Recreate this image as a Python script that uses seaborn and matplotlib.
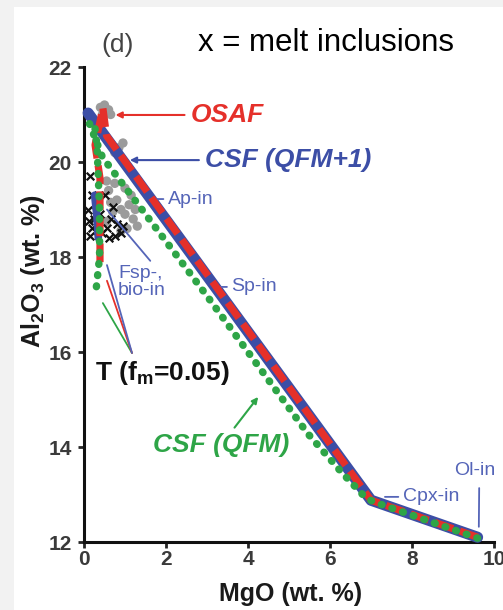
import matplotlib
matplotlib.use("Agg")
import matplotlib.pyplot as plt
from matplotlib.patches import Rectangle
import seaborn as sns

# model paths (MgO, Al2O3 in wt. %)
csf1_mgo = [9.6, 7.0, 0.1]
csf1_al = [12.1, 12.88, 21.03]
csf1_t_mgo = [0.26, 0.31, 0.35]
csf1_t_al = [19.3, 18.9, 18.4]

osaf_mgo = [9.6, 7.0, 0.55, 0.46, 0.27, 0.39, 0.39]
osaf_al = [12.1, 12.88, 20.55, 21.14, 20.36, 19.66, 17.83]

csf_mgo = [9.6, 7.05, 6.85, 6.3, 5.45, 3.05, 2.2, 1.15, 0.45, 0.07]
csf_al = [12.08, 12.85, 12.95, 13.45, 14.29, 17.12, 18.1, 19.3, 20.1, 20.95]
csf_t_mgo = [0.27, 0.32, 0.38, 0.38, 0.3]
csf_t_al = [20.7, 20.3, 19.0, 18.0, 17.35]

# whole-rock data (grey) and melt inclusions (x)
rock_mgo = [0.4, 0.5, 0.6, 0.45, 0.65, 0.95, 0.85, 0.75, 0.6, 0.8, 0.9, 1.0, 1.1,
            1.2, 0.7, 1.3, 0.55, 1.05, 0.75, 1.15, 1.25, 0.65, 0.9, 0.55, 1.0]
rock_al = [21.15, 21.2, 21.1, 21.0, 21.0, 20.4, 20.3, 20.2, 19.4, 19.2, 19.0, 18.9, 19.1,
           18.8, 18.95, 18.65, 18.75, 18.6, 19.55, 19.3, 19.0, 19.15, 18.55, 19.6, 19.45]
mi_mgo = [0.15, 0.2, 0.1, 0.25, 0.3, 0.4, 0.55, 0.65, 0.75, 0.8, 0.9, 0.2, 0.15,
          0.7, 0.5, 0.35, 0.95, 0.6, 0.12, 0.45]
mi_al = [19.7, 19.3, 19.0, 18.8, 19.1, 18.9, 18.6, 18.8, 18.45, 18.7, 18.5, 18.6, 18.45,
         19.05, 19.3, 18.55, 18.65, 18.4, 18.75, 18.5]

xticks = [0, 2, 4, 6, 8, 10]
yticks = [12, 14, 16, 18, 20, 22]

BLUE = "#3c4ea6"
RED = "#e5302a"
GREEN = "#2ea547"
LBLUE = "#5565b8"

sns.set_style("ticks")
plt.rcParams["font.family"] = ["Liberation Sans", "DejaVu Sans"]
plt.rcParams["mathtext.default"] = "regular"

fig, ax = plt.subplots(figsize=(5.03, 6.10), dpi=100, facecolor="#f2f2f2")
fig.patches.append(Rectangle((14 / 503, 0), 1, 1 - 7 / 610, transform=fig.transFigure,
                             facecolor="white", edgecolor="none", zorder=-1))
fig.subplots_adjust(left=84 / 503, right=494 / 503, bottom=1 - 542 / 610, top=1 - 67 / 610)
ax.set_facecolor("none")

sns.scatterplot(x=rock_mgo, y=rock_al, color="#9b9b9b", s=45, edgecolor="none",
                ax=ax, zorder=2, clip_on=False)
sns.scatterplot(x=mi_mgo, y=mi_al, color="#111111", marker="x", s=30, linewidth=1.6,
                ax=ax, zorder=2, clip_on=False)

sns.lineplot(x=csf1_mgo, y=csf1_al, sort=False, estimator=None, color=BLUE, lw=8,
             ax=ax, zorder=3, clip_on=False)
sns.lineplot(x=csf1_t_mgo, y=csf1_t_al, sort=False, estimator=None, color=BLUE, lw=5.5,
             ax=ax, zorder=3, clip_on=False)
sns.lineplot(x=osaf_mgo, y=osaf_al, sort=False, estimator=None, color=RED, lw=5.2,
             ax=ax, zorder=4, clip_on=False)
ax.lines[-1].set_dashes((2.6, 1.0))
for xs, ys in [(csf_mgo, csf_al), (csf_t_mgo, csf_t_al)]:
    sns.lineplot(x=xs, y=ys, sort=False, estimator=None, color=GREEN, lw=5.4,
                 ax=ax, zorder=5, clip_on=False)
    ax.lines[-1].set_dashes((0.1, 1.4))
    ax.lines[-1].set_dash_capstyle("round")

ax.set_xlim(0, 10)
ax.set_ylim(12, 22)
ax.set_xticks(xticks)
ax.set_yticks(yticks)
ax.tick_params(axis="both", labelsize=15, labelcolor="#3a3a3a", width=2, length=4,
               direction="out")
ax.tick_params(axis="y", pad=5)
ax.tick_params(axis="x", pad=2)
for lab in ax.get_xticklabels() + ax.get_yticklabels():
    lab.set_fontweight("bold")
sns.despine(ax=ax)
for sp in ["left", "bottom"]:
    ax.spines[sp].set_linewidth(2.2)
    ax.spines[sp].set_color("#111111")

ax.set_xlabel("MgO (wt. %)", fontsize=18, fontweight="bold", color="#1a1a1a")
ax.set_ylabel("Al$_2$O$_3$ (wt. %)", fontsize=18, fontweight="bold", color="#1a1a1a")
ax.xaxis.set_label_coords(0.505, -0.084)
ax.yaxis.set_label_coords(-0.09, 0.57)

fig.text(118 / 503, 1 - 45 / 610, "(d)", fontsize=19, color="#444444",
         ha="center", va="center")
fig.text(326 / 503, 1 - 43 / 610, "x = melt inclusions", fontsize=22.5, color="black",
         ha="center", va="center")

big = dict(fontsize=19, fontweight="bold", fontstyle="italic", va="center", ha="left")
ax.annotate("OSAF", xy=(0.7, 20.99), xytext=(2.6, 20.99), color=RED, **big,
            arrowprops=dict(arrowstyle="-|>", color=RED, lw=1.5, mutation_scale=9))
ax.annotate("CSF (QFM+1)", xy=(1.05, 20.04), xytext=(2.95, 20.04), color=BLUE, **big,
            arrowprops=dict(arrowstyle="-|>", color=BLUE, lw=1.5, mutation_scale=9))
ax.annotate("CSF (QFM)", xy=(4.29, 15.1), xytext=(1.68, 14.04), color=GREEN, **big,
            arrowprops=dict(arrowstyle="-|>", color=GREEN, lw=1.5, mutation_scale=9))

small = dict(fontsize=14, color=LBLUE, va="center", ha="left")
thin = dict(arrowstyle="-", color=LBLUE, lw=1.3, shrinkA=1, shrinkB=0)
ax.annotate("Ap-in", xy=(1.66, 19.22), xytext=(2.05, 19.22), arrowprops=thin, **small)
ax.annotate("Sp-in", xy=(3.27, 17.37), xytext=(3.6, 17.37), arrowprops=thin, **small)
ax.annotate("Cpx-in", xy=(7.34, 12.95), xytext=(7.78, 12.95), arrowprops=thin, **small)
ax.annotate("Ol-in", xy=(9.63, 12.32), xytext=(9.54, 13.5), ha="center", va="center",
            fontsize=14, color=LBLUE,
            arrowprops=dict(arrowstyle="-", color=LBLUE, lw=1.3, shrinkA=4, shrinkB=0,
                            relpos=(0.6, 0)))
ax.annotate("Fsp-,\nbio-in", xy=(0.56, 19.0), xytext=(0.83, 17.47), linespacing=1.0,
            arrowprops=dict(thin, relpos=(0.75, 1.0)), **small)

ax.text(0.27, 15.56, "T (f$_m$=0.05)", fontsize=19, fontweight="bold", color="#111111",
        va="center", ha="left")
for (px, py), c in [((0.46, 17.03), GREEN), ((0.56, 17.5), RED), ((0.56, 17.83), LBLUE)]:
    ax.annotate("", xy=(px, py), xytext=(1.17, 15.98),
                arrowprops=dict(arrowstyle="-", color=c, lw=1.3, shrinkA=0, shrinkB=0))

fig.savefig("out.png", dpi=100, facecolor=fig.get_facecolor())
